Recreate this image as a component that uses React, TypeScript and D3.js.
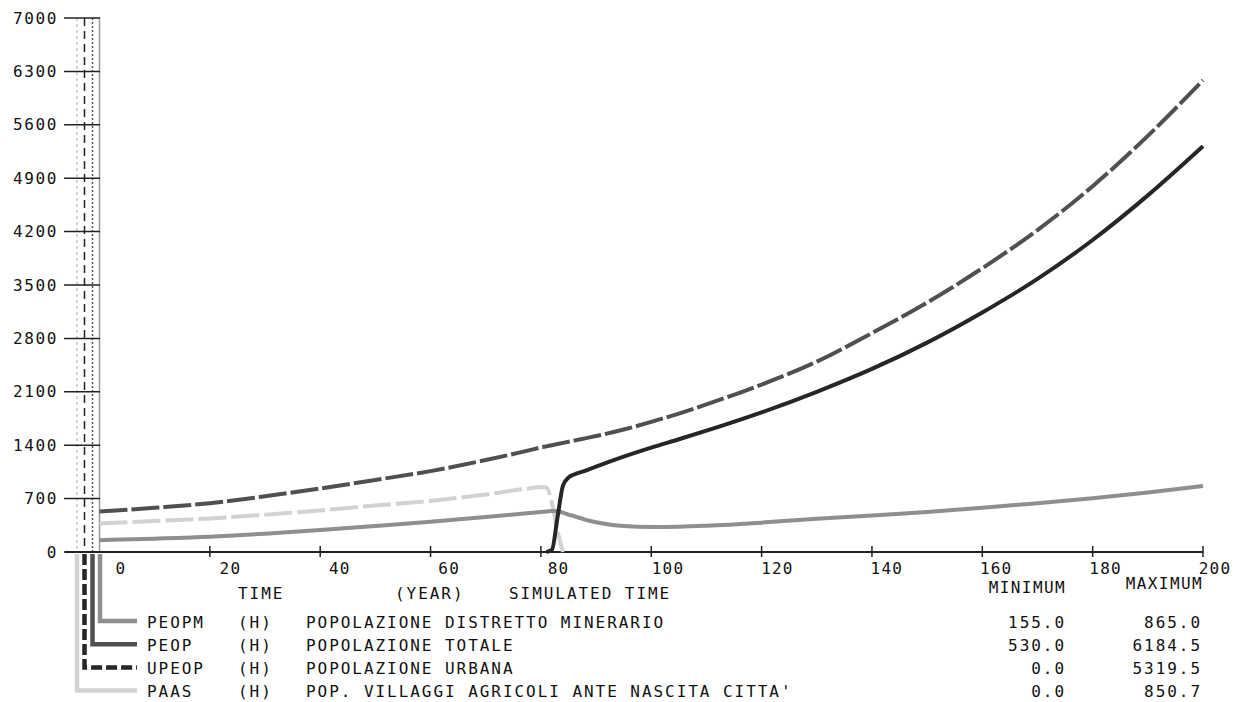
import React from "react";
import * as d3 from "d3";

// ---------- DATA ----------
const TIME = [0, 10, 20, 30, 40, 50, 60, 70, 78, 80, 81, 82, 83, 84, 85, 86, 88, 90, 95, 100, 105, 110, 120, 130, 140, 150, 160, 170, 180, 190, 200];
const PEOPM = [155, 175, 200, 240, 288, 340, 395, 458, 512, 525, 532, 538, 535, 515, 490, 470, 425, 390, 340, 328, 332, 345, 385, 435, 478, 525, 580, 640, 705, 780, 865];
const PEOP = [530, 580, 640, 730, 833, 945, 1060, 1205, 1335, 1370, 1385, 1400, 1415, 1430, 1445, 1460, 1490, 1520, 1605, 1706, 1815, 1935, 2195, 2495, 2870, 3270, 3720, 4220, 4795, 5455, 6184.5];
const UPEOP = [0, 0, 0, 0, 0, 0, 0, 0, 0, 0, 0, 30, 450, 870, 975, 1015, 1065, 1120, 1250, 1368, 1478, 1590, 1830, 2100, 2400, 2745, 3140, 3580, 4090, 4675, 5319.5];
const PAAS = [375, 405, 440, 490, 545, 610, 670, 755, 835, 850.7, 845, 640, 275, 0, 0, 0, 0, 0, 0, 0, 0, 0, 0, 0, 0, 0, 0, 0, 0, 0, 0];

const Y_TICKS = [0, 700, 1400, 2100, 2800, 3500, 4200, 4900, 5600, 6300, 7000];
const X_TICKS = [0, 20, 40, 60, 80, 100, 120, 140, 160, 180, 200];

const VAR_NAMES = ["PEOPM", "PEOP", "UPEOP", "PAAS"];
const VAR_UNITS = ["(H)", "(H)", "(H)", "(H)"];
const VAR_DESC = [
  "POPOLAZIONE DISTRETTO MINERARIO",
  "POPOLAZIONE TOTALE",
  "POPOLAZIONE URBANA",
  "POP. VILLAGGI AGRICOLI ANTE NASCITA CITTA'",
];
const VAR_MIN = ["155.0", "530.0", "0.0", "0.0"];
const VAR_MAX = ["865.0", "6184.5", "5319.5", "850.7"];

// ---------- STYLE ----------
const FONT = "'DejaVu Sans Mono', 'Liberation Mono', monospace";
const FS = 16;
const LS = 1.95;

const COLORS = { PEOPM: "#8f8f8f", PEOP: "#505050", UPEOP: "#262626", PAAS: "#d2d2d2" };

export default function App() {
  const W = 1241, H = 702;
  const x = d3.scaleLinear().domain([0, 200]).range([99.5, 1203]);
  const xLab = d3.scaleLinear().domain([0, 200]).range([121, 1215]);
  const y = d3.scaleLinear().domain([0, 7000]).range([552, 18]);

  const line = (vals: number[]) =>
    d3
      .line<number>()
      .defined((d, i) => d > 0 || (vals[i - 1] ?? 0) > 0 || (vals[i + 1] ?? 0) > 0)
      .x((_, i) => x(TIME[i]))
      .y((d) => y(d))
      .curve(d3.curveMonotoneX)(vals) as string;

  const series = [
    { key: "PAAS", vals: PAAS, color: COLORS.PAAS, dash: "28,5" },
    { key: "PEOPM", vals: PEOPM, color: COLORS.PEOPM, dash: null },
    { key: "PEOP", vals: PEOP, color: COLORS.PEOP, dash: "28,4" },
    { key: "UPEOP", vals: UPEOP, color: COLORS.UPEOP, dash: null },
  ];

  // vertical per-variable scale lines (left of plot)
  const vlines = [
    { xp: 77, color: "#c8c8c8", dash: "3,3", w: 1.5 },
    { xp: 84.5, color: "#222", dash: "8,5", w: 1.5 },
    { xp: 92.5, color: "#555", dash: "2,2", w: 1.5 },
    { xp: 99.5, color: "#999", dash: null, w: 1.5 },
  ];

  const legendX = [100, 92.5, 84.5, 77];
  const legendColor = [COLORS.PEOPM, COLORS.PEOP, COLORS.UPEOP, COLORS.PAAS];
  const legendDash = [null, null, "11,4", null];
  const rowY = (i: number) => 621 + i * 23.2;

  const textStyle: React.CSSProperties = {
    fontFamily: FONT,
    fontSize: FS,
    letterSpacing: LS,
    fill: "#111",
  };
  const tickStyle: React.CSSProperties = { ...textStyle, letterSpacing: 1.2 };

  return (
    <svg
      width={W}
      height={H}
      style={{ position: "absolute", left: 0, top: 0, background: "#fff" }}
    >
      <rect x={0} y={0} width={W} height={H} fill="#fff" />

      {/* vertical scale lines */}
      {vlines.map((v, i) => (
        <line
          key={"v" + i}
          x1={v.xp}
          x2={v.xp}
          y1={y(7000)}
          y2={y(0)}
          stroke={v.color}
          strokeWidth={v.w}
          strokeDasharray={v.dash ?? undefined}
        />
      ))}

      {/* y ticks and labels */}
      {Y_TICKS.map((t) => (
        <g key={"y" + t}>
          <line x1={64} x2={100} y1={y(t)} y2={y(t)} stroke="#222" strokeWidth={1.5} />
          <text
            x={58}
            y={y(t)}
            textAnchor="end"
            dominantBaseline="central"
            style={{ ...textStyle, letterSpacing: 1.6 }}
          >
            {t}
          </text>
        </g>
      ))}

      {/* x axis */}
      <line x1={65} x2={x(200)} y1={y(0)} y2={y(0)} stroke="#222" strokeWidth={2} />
      {X_TICKS.filter((t) => t > 0).map((t) => (
        <line key={"xt" + t} x1={x(t)} x2={x(t)} y1={546} y2={557} stroke="#222" strokeWidth={1.5} />
      ))}
      {X_TICKS.map((t) => (
        <text
          key={"xl" + t}
          x={xLab(t)}
          y={568}
          textAnchor="middle"
          dominantBaseline="central"
          style={tickStyle}
        >
          {t}
        </text>
      ))}

      {/* series */}
      {series.map((s) => (
        <path
          key={s.key}
          d={line(s.vals)}
          fill="none"
          stroke={s.color}
          strokeWidth={4}
          strokeDasharray={s.dash ?? undefined}
          strokeLinejoin="round"
        />
      ))}

      {/* axis header texts */}
      <text x={238} y={593} dominantBaseline="central" style={textStyle}>TIME</text>
      <text x={395} y={593} dominantBaseline="central" style={textStyle}>(YEAR)</text>
      <text x={509} y={593} dominantBaseline="central" style={textStyle}>SIMULATED TIME</text>
      <text x={1066} y={587} textAnchor="end" dominantBaseline="central" style={{ ...textStyle, letterSpacing: 1.4 }}>MINIMUM</text>
      <text x={1203} y={583} textAnchor="end" dominantBaseline="central" style={{ ...textStyle, letterSpacing: 1.4 }}>MAXIMUM</text>

      {/* legend */}
      {VAR_NAMES.map((n, i) => (
        <g key={"lg" + n}>
          <path
            d={`M${legendX[i]},${y(0) + 2} L${legendX[i]},${rowY(i)} L137,${rowY(i)}`}
            fill="none"
            stroke={legendColor[i]}
            strokeWidth={4.5}
            strokeDasharray={legendDash[i] ?? undefined}
            strokeLinejoin="miter"
          />
          <text x={147} y={rowY(i) + 1} dominantBaseline="central" style={textStyle}>{n}</text>
          <text x={238} y={rowY(i) + 1} dominantBaseline="central" style={textStyle}>{VAR_UNITS[i]}</text>
          <text x={306} y={rowY(i) + 1} dominantBaseline="central" style={textStyle}>{VAR_DESC[i]}</text>
          <text x={1066} y={rowY(i) + 1} textAnchor="end" dominantBaseline="central" style={textStyle}>{VAR_MIN[i]}</text>
          <text x={1202} y={rowY(i) + 1} textAnchor="end" dominantBaseline="central" style={textStyle}>{VAR_MAX[i]}</text>
        </g>
      ))}
    </svg>
  );
}
